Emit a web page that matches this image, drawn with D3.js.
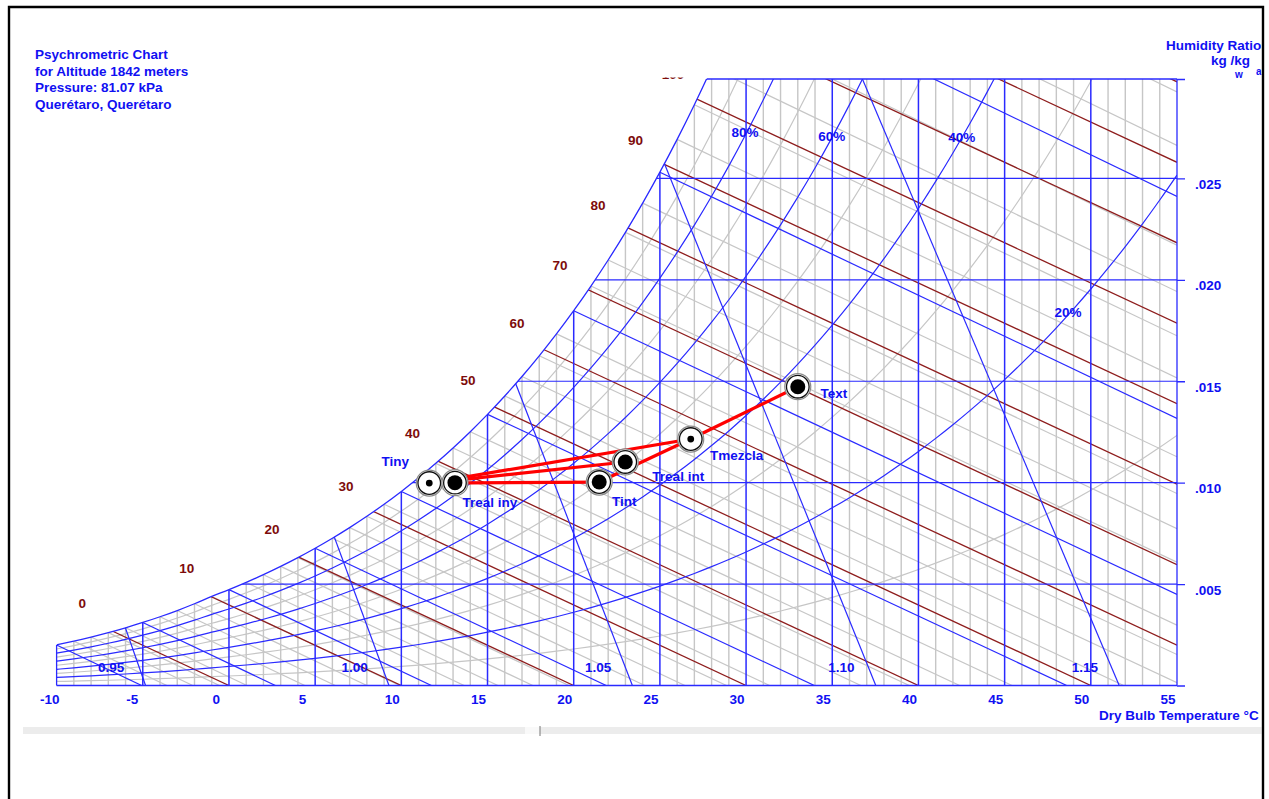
<!DOCTYPE html>
<html>
<head>
<meta charset="utf-8">
<script src="https://cdn.jsdelivr.net/npm/d3@7/dist/d3.min.js"></script>
<style>
  body { margin: 0; background: #fff; }
  text { font-family: "Liberation Sans", Arial, sans-serif; font-weight: bold; font-size: 13.5px; }
</style>
</head>
<body>
<div id="chart"></div>
<script>
// site
var pressure = 81.07; // kPa
var headerLines = ["Psychrometric Chart", "for Altitude 1842 meters", "Pressure: 81.07 kPa", "Querétaro, Querétaro"];

// saturation pressure table (kPa), ice below 0 °C
var satTemps = [-10, -9, -8, -7, -6, -5, -4, -3, -2, -1, 0, 1, 2, 3, 4, 5, 6, 7, 8, 9, 10, 11, 12, 13, 14, 15, 16, 17, 18, 19, 20,
  21, 22, 23, 24, 25, 26, 27, 28, 29, 30, 31, 32, 33, 34, 35, 36, 37, 38, 39, 40, 41, 42, 43, 44, 45, 46, 47, 48, 49, 50,
  51, 52, 53, 54, 55];
var satPressure = [0.2599, 0.2839, 0.3100, 0.3385, 0.3694, 0.4030, 0.4394, 0.4790, 0.5219, 0.5684,
  0.6112, 0.6571, 0.7060, 0.7581, 0.8135, 0.8726, 0.9354, 1.0021, 1.0730, 1.1482,
  1.2282, 1.3129, 1.4028, 1.4981, 1.5989, 1.7057, 1.8188, 1.9383, 2.0647, 2.1982,
  2.3392, 2.4881, 2.6452, 2.8109, 2.9856, 3.1697, 3.3637, 3.5679, 3.7828, 4.0089,
  4.2467, 4.4966, 4.7592, 5.0351, 5.3247, 5.6286, 5.9475, 6.2818, 6.6324, 6.9997,
  7.3844, 7.7873, 8.2090, 8.6503, 9.1118, 9.5944, 10.0988, 10.6259, 11.1764, 11.7512,
  12.3513, 12.9774, 13.6305, 14.3116, 15.0215, 15.7614];

var tempTicks = [-10, -5, 0, 5, 10, 15, 20, 25, 30, 35, 40, 45, 50, 55];
var humidityTicks = [0.005, 0.010, 0.015, 0.020, 0.025];
var humidityTop = 0.0299;

var rhMajor = [20, 40, 60, 80];
var rhMinor = [10, 30, 50, 70, 90];
var rhLabelText = ["80%", "60%", "40%", "20%"];
var rhLabelT = [29.94, 34.97, 42.51, 48.68];
var rhLabelW = [0.0273, 0.02709, 0.02706, 0.01842];

// enthalpy scale lines (kJ/kg), drawn as h = t + 2520 W
var enthalpyLevels = [0, 10, 20, 30, 40, 50, 60, 70, 80, 90, 100, 110, 120, 130];
var enthalpyLabelText = ["0", "10", "20", "30", "40", "50", "60", "70", "80", "90", "100"];
var enthalpyLabelT = [-8.51, -2.45, 2.50, 6.79, 10.65, 13.87, 16.71, 19.20, 21.41, 23.59, 25.76];
var enthalpyLabelW = [0.00407, 0.00579, 0.00772, 0.00984, 0.01245, 0.01506, 0.01787, 0.02073, 0.02369, 0.02690, 0.03016];

var wetBulbMax = 34;
var volumeLevels = [0.95, 1.00, 1.05, 1.10, 1.15];

// process states
var pointNames = ["Tiny", "Treal iny", "Tint", "Treal int", "Tmezcla", "Text"];
var pointTemps = [11.62, 13.11, 21.48, 22.99, 26.79, 33.00];
var pointW = [0.00998, 0.01000, 0.01003, 0.01102, 0.01215, 0.01473];
var pointBigDot = [false, true, true, true, false, true];
var processLinks = [["Tiny", "Tint"], ["Tiny", "Treal int"], ["Tiny", "Tmezcla"], ["Tint", "Tmezcla"], ["Tmezcla", "Text"]];
// label offsets (px) from each marker
var pointLabelDx = [-34, 35, 25, 53, 46, 36];
var pointLabelDy = [-22, 19, 19, 14, 16, 6];

var BLUE = "#2a2aff", GREY = "#c6c6c6", BROWN = "#8e1d1d", TXT = "#1010f2", RED_TXT = "#7d0b0b";

var svg = d3.select("#chart").append("svg")
  .attr("width", 1269).attr("height", 799)
  .style("display", "block").style("background", "#fff");

var x = d3.scaleLinear().domain([-10, 55]).range([56.6, 1177]);
var y = d3.scaleLinear().domain([0, humidityTop]).range([685.5, 79]);

function wFromPv(pv) { return 0.621945 * pv / (pressure - pv); }
var satW = satPressure.map(wFromPv);
var satPoints = satTemps.map(function(t, i) { return [t, satW[i]]; });

var defs = svg.append("defs");
defs.append("clipPath").attr("id", "frameClip").append("rect")
  .attr("x", 0).attr("y", 0).attr("width", 1261.5).attr("height", 799);
defs.append("clipPath").attr("id", "plotClip").append("rect")
  .attr("x", x(-10)).attr("y", y(humidityTop))
  .attr("width", x(55) - x(-10)).attr("height", y(0) - y(humidityTop));
var satArea = d3.area().x(function(d) { return x(d[0]); }).y0(y(0))
  .y1(function(d) { return y(d[1]); }).curve(d3.curveMonotoneX);
defs.append("clipPath").attr("id", "satClip").append("path").attr("d", satArea(satPoints));
defs.append("clipPath").attr("id", "labelClip").append("rect")
  .attr("x", 0).attr("y", 77.5).attr("width", 1269).attr("height", 722);

var root = svg.append("g").attr("clip-path", "url(#frameClip)");

var line = d3.line().x(function(d) { return x(d[0]); }).y(function(d) { return y(d[1]); });
var curve = d3.line().x(function(d) { return x(d[0]); }).y(function(d) { return y(d[1]); }).curve(d3.curveMonotoneX);

var plot = root.append("g").attr("clip-path", "url(#plotClip)")
  .append("g").attr("clip-path", "url(#satClip)");

function path(g, d, color, w) {
  g.append("path").attr("d", d).attr("fill", "none").attr("stroke", color).attr("stroke-width", w);
}

// dry bulb lines
satTemps.forEach(function(t) {
  if (t % 5 !== 0) path(plot, line([[t, 0], [t, humidityTop]]), GREY, 1.4);
});
// wet bulb lines (through saturation at constant enthalpy)
function wetBulb(t, i) {
  var h = 1.006 * t + satW[i] * (2501 + 1.86 * t);
  var tEnd = Math.min(55, h / 1.006);
  var wEnd = (h - 1.006 * tEnd) / (2501 + 1.86 * tEnd);
  return [[t, satW[i]], [tEnd, wEnd]];
}
satTemps.forEach(function(t, i) {
  if (t <= wetBulbMax && t % 5 !== 0) path(plot, line(wetBulb(t, i)), GREY, 1.2);
});
function rhCurve(rh) {
  return satTemps.map(function(t, i) { return [t, wFromPv(rh / 100 * satPressure[i])]; });
}
rhMinor.forEach(function(rh) { path(plot, curve(rhCurve(rh)), GREY, 1.2); });

// enthalpy lines
enthalpyLevels.forEach(function(h) {
  var t1 = Math.min(55, h);
  path(plot, line([[-10, (h + 10) / 2520], [t1, (h - t1) / 2520]]), BROWN, 1.3);
});

satTemps.forEach(function(t) {
  if (t % 5 === 0 && t > -10 && t < 55) path(plot, line([[t, 0], [t, humidityTop]]), BLUE, 1.5);
});
humidityTicks.forEach(function(w) { path(plot, line([[-10, w], [55, w]]), BLUE, 1.2); });
satTemps.forEach(function(t, i) {
  if (t <= wetBulbMax && t % 5 === 0) path(plot, line(wetBulb(t, i)), BLUE, 1.2);
});
rhMajor.forEach(function(rh) { path(plot, curve(rhCurve(rh)), BLUE, 1.2); });
volumeLevels.forEach(function(v) {
  var tv = function(w) { return v * pressure / (0.287042 * (1 + 1.6078 * w)) - 273.15; };
  path(plot, line([[tv(0), 0], [tv(humidityTop), humidityTop]]), BLUE, 1.2);
});

// chart outline
var edge = root.append("g");
root.append("g").attr("clip-path", "url(#satClip)")
  .append("path").attr("d", line([[-10, humidityTop], [55, humidityTop]]))
  .attr("stroke", BLUE).attr("stroke-width", 1.3);
root.append("g").attr("clip-path", "url(#plotClip)")
  .append("path").attr("d", curve(satPoints)).attr("fill", "none").attr("stroke", BLUE).attr("stroke-width", 1.3);
path(edge, line([[-10, 0], [-10, satW[0]]]), BLUE, 1.3);
path(edge, line([[-10, 0], [55, 0]]), BLUE, 1.3);
path(edge, line([[55, 0], [55, humidityTop]]), BLUE, 1.3);

// axes
var yAxis = root.append("g").attr("transform", "translate(" + x(55) + ",0)")
  .call(d3.axisRight(y).tickValues([0].concat(humidityTicks, [humidityTop]))
    .tickSize(8).tickPadding(10)
    .tickFormat(function(d) { return humidityTicks.indexOf(d) >= 0 ? d3.format(".3f")(d).slice(1) : ""; }));
yAxis.select(".domain").remove();
yAxis.selectAll("line").attr("stroke", BLUE).attr("stroke-width", 1.3);
yAxis.selectAll("text").attr("dy", 10).attr("fill", TXT);
yAxis.attr("font-family", null).attr("font-size", null);

var xAxis = root.append("g").attr("transform", "translate(0," + y(0) + ")")
  .call(d3.axisBottom(x).tickValues(tempTicks).tickSize(0).tickFormat(function(d) { return String(d); }));
xAxis.select(".domain").remove();
xAxis.attr("font-family", null).attr("font-size", null);
xAxis.selectAll("text").attr("text-anchor", "start").attr("x", -17).attr("y", 18.5).attr("dy", null)
  .attr("fill", TXT);

// labels on chart
root.append("g").attr("clip-path", "url(#labelClip)").selectAll("text")
  .data(enthalpyLabelText).enter().append("text")
  .attr("x", function(d, i) { return x(enthalpyLabelT[i]); })
  .attr("y", function(d, i) { return y(enthalpyLabelW[i]) + 5; })
  .attr("text-anchor", "middle").attr("fill", RED_TXT).text(function(d) { return d; });

root.append("g").selectAll("text").data(rhLabelText).enter().append("text")
  .attr("x", function(d, i) { return x(rhLabelT[i]); })
  .attr("y", function(d, i) { return y(rhLabelW[i]) + 5; })
  .attr("text-anchor", "middle").attr("fill", TXT).text(function(d) { return d; });

root.append("g").selectAll("text").data(volumeLevels).enter().append("text")
  .attr("x", function(v) { return x(v * pressure / 0.287042 - 273.15) - 47.5; })
  .attr("y", 671.5).attr("fill", TXT).text(function(v) { return d3.format(".2f")(v); });

// process lines and states
var idx = function(n) { return pointNames.indexOf(n); };
root.append("g").selectAll("path").data(processLinks).enter().append("path")
  .attr("d", function(l) {
    return line([[pointTemps[idx(l[0])], pointW[idx(l[0])]], [pointTemps[idx(l[1])], pointW[idx(l[1])]]]);
  })
  .attr("stroke", "#ff0000").attr("stroke-width", 3.2);

var marks = root.append("g").selectAll("g").data(pointNames).enter().append("g")
  .attr("transform", function(d, i) { return "translate(" + x(pointTemps[i]) + "," + y(pointW[i]) + ")"; });
marks.append("circle").attr("r", 13).attr("fill", "#fff").attr("stroke", "#8a8a8a").attr("stroke-width", 1.2);
marks.append("circle").attr("r", 11.3).attr("fill", "none").attr("stroke", "#111").attr("stroke-width", 1.3);
marks.append("circle").attr("r", function(d, i) { return pointBigDot[i] ? 7.5 : 3.4; }).attr("fill", "#000");
root.append("g").selectAll("text").data(pointNames).enter().append("text")
  .attr("x", function(d, i) { return x(pointTemps[i]) + pointLabelDx[i]; })
  .attr("y", function(d, i) { return y(pointW[i]) + pointLabelDy[i] + 5; })
  .attr("text-anchor", "middle").attr("fill", TXT).text(function(d) { return d; });

// titles
root.append("g").selectAll("text").data(headerLines).enter().append("text")
  .attr("x", 35).attr("y", function(d, i) { return 59 + i * 16.7; })
  .attr("fill", TXT).text(function(d) { return d; });
root.append("text").attr("x", 1166).attr("y", 49.5).attr("fill", TXT).text("Humidity Ratio");
root.append("text").attr("x", 1211).attr("y", 65).attr("fill", TXT).text("kg /kg");
root.append("text").attr("x", 1235).attr("y", 78).attr("fill", TXT).style("font-size", "10px").text("w");
root.append("text").attr("x", 1256).attr("y", 75).attr("fill", TXT).style("font-size", "10px").text("a");
root.append("text").attr("x", 1099).attr("y", 719.5).attr("fill", TXT).text("Dry Bulb Temperature °C");

// scroll strip under chart
root.append("rect").attr("x", 23).attr("y", 727).attr("width", 1240).attr("height", 7).attr("fill", "#ececec");
root.append("rect").attr("x", 525).attr("y", 727).attr("width", 15).attr("height", 7).attr("fill", "#f9f9f9");
root.append("line").attr("x1", 540).attr("x2", 540).attr("y1", 726).attr("y2", 736).attr("stroke", "#777");

// window frame
svg.append("path").attr("d", "M9,820 V7 H1263 V820").attr("fill", "none").attr("stroke", "#000").attr("stroke-width", 2.4);
</script>
</body>
</html>
